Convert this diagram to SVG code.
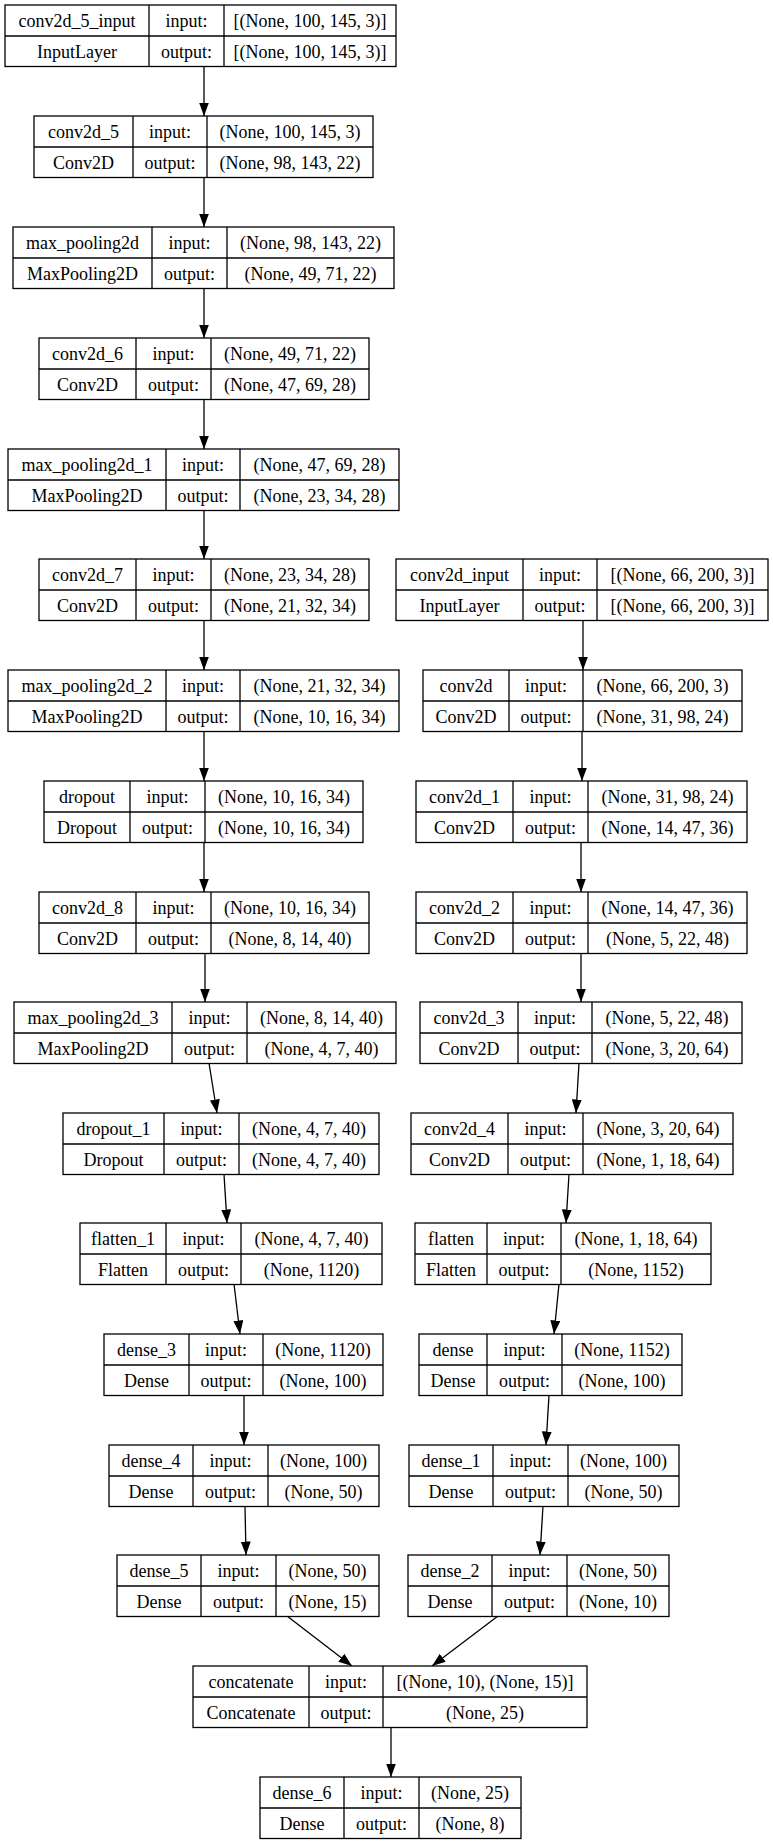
<svg xmlns="http://www.w3.org/2000/svg" width="773" height="1844" viewBox="0 0 773 1844">
<style>
rect.b{fill:#fff;stroke:#000;stroke-width:1.3}
line.s{stroke:#000;stroke-width:1.3}
text{font-family:"Liberation Serif","Times New Roman",serif;font-size:18px;fill:#000;text-anchor:middle}
.e line{stroke:#000;stroke-width:1.3;marker-end:url(#ah)}
</style>
<defs>
<marker id="ah" markerUnits="userSpaceOnUse" markerWidth="14" markerHeight="10" refX="13.5" refY="5" orient="auto">
<path d="M0,0 L13.5,5 L0,10 z" fill="#000"/>
</marker>
</defs>
<rect width="773" height="1844" fill="#fff"/>

<g class="e" id="connectors">
<line x1="204" y1="67" x2="204" y2="116"/>
<line x1="204" y1="177" x2="204" y2="227"/>
<line x1="204" y1="288" x2="204" y2="338"/>
<line x1="204" y1="399" x2="204" y2="449"/>
<line x1="204" y1="510" x2="204" y2="559"/>
<line x1="204" y1="620" x2="204" y2="670"/>
<line x1="204" y1="731" x2="204" y2="781"/>
<line x1="204" y1="842" x2="204" y2="892"/>
<line x1="205" y1="953" x2="205" y2="1002"/>
<line x1="209" y1="1063" x2="217" y2="1113"/>
<line x1="224" y1="1174" x2="227" y2="1223"/>
<line x1="234" y1="1284" x2="240" y2="1334"/>
<line x1="244" y1="1395" x2="244" y2="1445"/>
<line x1="245" y1="1506" x2="246" y2="1555"/>
<line x1="287" y1="1616" x2="352" y2="1666"/>
<line x1="583" y1="620" x2="583" y2="670"/>
<line x1="582" y1="731" x2="582" y2="781"/>
<line x1="581" y1="842" x2="581" y2="892"/>
<line x1="581" y1="953" x2="581" y2="1002"/>
<line x1="579" y1="1063" x2="576" y2="1113"/>
<line x1="569" y1="1174" x2="566" y2="1223"/>
<line x1="559" y1="1284" x2="554" y2="1334"/>
<line x1="549" y1="1395" x2="546" y2="1445"/>
<line x1="543" y1="1506" x2="540" y2="1555"/>
<line x1="498" y1="1616" x2="432" y2="1666"/>
<line x1="391" y1="1727" x2="391" y2="1777"/>
</g>

<g id="conv2d_5_input">
<rect class="b" x="5" y="5" width="391" height="61.5"/>
<line class="s" x1="5" y1="36" x2="396" y2="36"/>
<line class="s" x1="149" y1="5" x2="149" y2="66.5"/>
<line class="s" x1="224" y1="5" x2="224" y2="66.5"/>
<text x="77" y="27">conv2d_5_input</text><text x="77" y="58">InputLayer</text>
<text x="186.5" y="27">input:</text><text x="186.5" y="58">output:</text>
<text x="310" y="27">[(None, 100, 145, 3)]</text><text x="310" y="58">[(None, 100, 145, 3)]</text>
</g>

<g id="conv2d_5">
<rect class="b" x="34" y="116" width="339" height="61.5"/>
<line class="s" x1="34" y1="147" x2="373" y2="147"/>
<line class="s" x1="133" y1="116" x2="133" y2="177.5"/>
<line class="s" x1="207" y1="116" x2="207" y2="177.5"/>
<text x="83.5" y="138">conv2d_5</text><text x="83.5" y="169">Conv2D</text>
<text x="170" y="138">input:</text><text x="170" y="169">output:</text>
<text x="290" y="138">(None, 100, 145, 3)</text><text x="290" y="169">(None, 98, 143, 22)</text>
</g>

<g id="max_pooling2d">
<rect class="b" x="13" y="227" width="381" height="61.5"/>
<line class="s" x1="13" y1="258" x2="394" y2="258"/>
<line class="s" x1="152" y1="227" x2="152" y2="288.5"/>
<line class="s" x1="227" y1="227" x2="227" y2="288.5"/>
<text x="82.5" y="249">max_pooling2d</text><text x="82.5" y="280">MaxPooling2D</text>
<text x="189.5" y="249">input:</text><text x="189.5" y="280">output:</text>
<text x="310.5" y="249">(None, 98, 143, 22)</text><text x="310.5" y="280">(None, 49, 71, 22)</text>
</g>

<g id="conv2d_6">
<rect class="b" x="39" y="338" width="330" height="61.5"/>
<line class="s" x1="39" y1="369" x2="369" y2="369"/>
<line class="s" x1="136" y1="338" x2="136" y2="399.5"/>
<line class="s" x1="211" y1="338" x2="211" y2="399.5"/>
<text x="87.5" y="360">conv2d_6</text><text x="87.5" y="391">Conv2D</text>
<text x="173.5" y="360">input:</text><text x="173.5" y="391">output:</text>
<text x="290" y="360">(None, 49, 71, 22)</text><text x="290" y="391">(None, 47, 69, 28)</text>
</g>

<g id="max_pooling2d_1">
<rect class="b" x="8" y="449" width="391" height="61.5"/>
<line class="s" x1="8" y1="480" x2="399" y2="480"/>
<line class="s" x1="166" y1="449" x2="166" y2="510.5"/>
<line class="s" x1="240" y1="449" x2="240" y2="510.5"/>
<text x="87" y="471">max_pooling2d_1</text><text x="87" y="502">MaxPooling2D</text>
<text x="203" y="471">input:</text><text x="203" y="502">output:</text>
<text x="319.5" y="471">(None, 47, 69, 28)</text><text x="319.5" y="502">(None, 23, 34, 28)</text>
</g>

<g id="conv2d_7">
<rect class="b" x="39" y="559" width="330" height="61.5"/>
<line class="s" x1="39" y1="590" x2="369" y2="590"/>
<line class="s" x1="136" y1="559" x2="136" y2="620.5"/>
<line class="s" x1="211" y1="559" x2="211" y2="620.5"/>
<text x="87.5" y="581">conv2d_7</text><text x="87.5" y="612">Conv2D</text>
<text x="173.5" y="581">input:</text><text x="173.5" y="612">output:</text>
<text x="290" y="581">(None, 23, 34, 28)</text><text x="290" y="612">(None, 21, 32, 34)</text>
</g>

<g id="max_pooling2d_2">
<rect class="b" x="8" y="670" width="391" height="61.5"/>
<line class="s" x1="8" y1="701" x2="399" y2="701"/>
<line class="s" x1="166" y1="670" x2="166" y2="731.5"/>
<line class="s" x1="240" y1="670" x2="240" y2="731.5"/>
<text x="87" y="692">max_pooling2d_2</text><text x="87" y="723">MaxPooling2D</text>
<text x="203" y="692">input:</text><text x="203" y="723">output:</text>
<text x="319.5" y="692">(None, 21, 32, 34)</text><text x="319.5" y="723">(None, 10, 16, 34)</text>
</g>

<g id="dropout">
<rect class="b" x="44" y="781" width="319" height="61.5"/>
<line class="s" x1="44" y1="812" x2="363" y2="812"/>
<line class="s" x1="130" y1="781" x2="130" y2="842.5"/>
<line class="s" x1="205" y1="781" x2="205" y2="842.5"/>
<text x="87" y="803">dropout</text><text x="87" y="834">Dropout</text>
<text x="167.5" y="803">input:</text><text x="167.5" y="834">output:</text>
<text x="284" y="803">(None, 10, 16, 34)</text><text x="284" y="834">(None, 10, 16, 34)</text>
</g>

<g id="conv2d_8">
<rect class="b" x="39" y="892" width="330" height="61.5"/>
<line class="s" x1="39" y1="923" x2="369" y2="923"/>
<line class="s" x1="136" y1="892" x2="136" y2="953.5"/>
<line class="s" x1="211" y1="892" x2="211" y2="953.5"/>
<text x="87.5" y="914">conv2d_8</text><text x="87.5" y="945">Conv2D</text>
<text x="173.5" y="914">input:</text><text x="173.5" y="945">output:</text>
<text x="290" y="914">(None, 10, 16, 34)</text><text x="290" y="945">(None, 8, 14, 40)</text>
</g>

<g id="max_pooling2d_3">
<rect class="b" x="14" y="1002" width="382" height="61.5"/>
<line class="s" x1="14" y1="1033" x2="396" y2="1033"/>
<line class="s" x1="172" y1="1002" x2="172" y2="1063.5"/>
<line class="s" x1="247" y1="1002" x2="247" y2="1063.5"/>
<text x="93" y="1024">max_pooling2d_3</text><text x="93" y="1055">MaxPooling2D</text>
<text x="209.5" y="1024">input:</text><text x="209.5" y="1055">output:</text>
<text x="321.5" y="1024">(None, 8, 14, 40)</text><text x="321.5" y="1055">(None, 4, 7, 40)</text>
</g>

<g id="dropout_1">
<rect class="b" x="63" y="1113" width="316" height="61.5"/>
<line class="s" x1="63" y1="1144" x2="379" y2="1144"/>
<line class="s" x1="164" y1="1113" x2="164" y2="1174.5"/>
<line class="s" x1="239" y1="1113" x2="239" y2="1174.5"/>
<text x="113.5" y="1135">dropout_1</text><text x="113.5" y="1166">Dropout</text>
<text x="201.5" y="1135">input:</text><text x="201.5" y="1166">output:</text>
<text x="309" y="1135">(None, 4, 7, 40)</text><text x="309" y="1166">(None, 4, 7, 40)</text>
</g>

<g id="flatten_1">
<rect class="b" x="80" y="1223" width="302" height="61.5"/>
<line class="s" x1="80" y1="1254" x2="382" y2="1254"/>
<line class="s" x1="166" y1="1223" x2="166" y2="1284.5"/>
<line class="s" x1="241" y1="1223" x2="241" y2="1284.5"/>
<text x="123" y="1245">flatten_1</text><text x="123" y="1276">Flatten</text>
<text x="203.5" y="1245">input:</text><text x="203.5" y="1276">output:</text>
<text x="311.5" y="1245">(None, 4, 7, 40)</text><text x="311.5" y="1276">(None, 1120)</text>
</g>

<g id="dense_3">
<rect class="b" x="104" y="1334" width="279" height="61.5"/>
<line class="s" x1="104" y1="1365" x2="383" y2="1365"/>
<line class="s" x1="189" y1="1334" x2="189" y2="1395.5"/>
<line class="s" x1="263" y1="1334" x2="263" y2="1395.5"/>
<text x="146.5" y="1356">dense_3</text><text x="146.5" y="1387">Dense</text>
<text x="226" y="1356">input:</text><text x="226" y="1387">output:</text>
<text x="323" y="1356">(None, 1120)</text><text x="323" y="1387">(None, 100)</text>
</g>

<g id="dense_4">
<rect class="b" x="109" y="1445" width="270" height="61.5"/>
<line class="s" x1="109" y1="1476" x2="379" y2="1476"/>
<line class="s" x1="193" y1="1445" x2="193" y2="1506.5"/>
<line class="s" x1="268" y1="1445" x2="268" y2="1506.5"/>
<text x="151" y="1467">dense_4</text><text x="151" y="1498">Dense</text>
<text x="230.5" y="1467">input:</text><text x="230.5" y="1498">output:</text>
<text x="323.5" y="1467">(None, 100)</text><text x="323.5" y="1498">(None, 50)</text>
</g>

<g id="dense_5">
<rect class="b" x="117" y="1555" width="262" height="61.5"/>
<line class="s" x1="117" y1="1586" x2="379" y2="1586"/>
<line class="s" x1="201" y1="1555" x2="201" y2="1616.5"/>
<line class="s" x1="276" y1="1555" x2="276" y2="1616.5"/>
<text x="159" y="1577">dense_5</text><text x="159" y="1608">Dense</text>
<text x="238.5" y="1577">input:</text><text x="238.5" y="1608">output:</text>
<text x="327.5" y="1577">(None, 50)</text><text x="327.5" y="1608">(None, 15)</text>
</g>

<g id="conv2d_input">
<rect class="b" x="396" y="559" width="372" height="61.5"/>
<line class="s" x1="396" y1="590" x2="768" y2="590"/>
<line class="s" x1="523" y1="559" x2="523" y2="620.5"/>
<line class="s" x1="597" y1="559" x2="597" y2="620.5"/>
<text x="459.5" y="581">conv2d_input</text><text x="459.5" y="612">InputLayer</text>
<text x="560" y="581">input:</text><text x="560" y="612">output:</text>
<text x="682.5" y="581">[(None, 66, 200, 3)]</text><text x="682.5" y="612">[(None, 66, 200, 3)]</text>
</g>

<g id="conv2d">
<rect class="b" x="423" y="670" width="319" height="61.5"/>
<line class="s" x1="423" y1="701" x2="742" y2="701"/>
<line class="s" x1="509" y1="670" x2="509" y2="731.5"/>
<line class="s" x1="583" y1="670" x2="583" y2="731.5"/>
<text x="466" y="692">conv2d</text><text x="466" y="723">Conv2D</text>
<text x="546" y="692">input:</text><text x="546" y="723">output:</text>
<text x="662.5" y="692">(None, 66, 200, 3)</text><text x="662.5" y="723">(None, 31, 98, 24)</text>
</g>

<g id="conv2d_1">
<rect class="b" x="416" y="781" width="331" height="61.5"/>
<line class="s" x1="416" y1="812" x2="747" y2="812"/>
<line class="s" x1="513" y1="781" x2="513" y2="842.5"/>
<line class="s" x1="588" y1="781" x2="588" y2="842.5"/>
<text x="464.5" y="803">conv2d_1</text><text x="464.5" y="834">Conv2D</text>
<text x="550.5" y="803">input:</text><text x="550.5" y="834">output:</text>
<text x="667.5" y="803">(None, 31, 98, 24)</text><text x="667.5" y="834">(None, 14, 47, 36)</text>
</g>

<g id="conv2d_2">
<rect class="b" x="416" y="892" width="331" height="61.5"/>
<line class="s" x1="416" y1="923" x2="747" y2="923"/>
<line class="s" x1="513" y1="892" x2="513" y2="953.5"/>
<line class="s" x1="588" y1="892" x2="588" y2="953.5"/>
<text x="464.5" y="914">conv2d_2</text><text x="464.5" y="945">Conv2D</text>
<text x="550.5" y="914">input:</text><text x="550.5" y="945">output:</text>
<text x="667.5" y="914">(None, 14, 47, 36)</text><text x="667.5" y="945">(None, 5, 22, 48)</text>
</g>

<g id="conv2d_3">
<rect class="b" x="420" y="1002" width="322" height="61.5"/>
<line class="s" x1="420" y1="1033" x2="742" y2="1033"/>
<line class="s" x1="518" y1="1002" x2="518" y2="1063.5"/>
<line class="s" x1="592" y1="1002" x2="592" y2="1063.5"/>
<text x="469" y="1024">conv2d_3</text><text x="469" y="1055">Conv2D</text>
<text x="555" y="1024">input:</text><text x="555" y="1055">output:</text>
<text x="667" y="1024">(None, 5, 22, 48)</text><text x="667" y="1055">(None, 3, 20, 64)</text>
</g>

<g id="conv2d_4">
<rect class="b" x="411" y="1113" width="322" height="61.5"/>
<line class="s" x1="411" y1="1144" x2="733" y2="1144"/>
<line class="s" x1="508" y1="1113" x2="508" y2="1174.5"/>
<line class="s" x1="583" y1="1113" x2="583" y2="1174.5"/>
<text x="459.5" y="1135">conv2d_4</text><text x="459.5" y="1166">Conv2D</text>
<text x="545.5" y="1135">input:</text><text x="545.5" y="1166">output:</text>
<text x="658" y="1135">(None, 3, 20, 64)</text><text x="658" y="1166">(None, 1, 18, 64)</text>
</g>

<g id="flatten">
<rect class="b" x="415" y="1223" width="296" height="61.5"/>
<line class="s" x1="415" y1="1254" x2="711" y2="1254"/>
<line class="s" x1="487" y1="1223" x2="487" y2="1284.5"/>
<line class="s" x1="561" y1="1223" x2="561" y2="1284.5"/>
<text x="451" y="1245">flatten</text><text x="451" y="1276">Flatten</text>
<text x="524" y="1245">input:</text><text x="524" y="1276">output:</text>
<text x="636" y="1245">(None, 1, 18, 64)</text><text x="636" y="1276">(None, 1152)</text>
</g>

<g id="dense">
<rect class="b" x="419" y="1334" width="263" height="61.5"/>
<line class="s" x1="419" y1="1365" x2="682" y2="1365"/>
<line class="s" x1="487" y1="1334" x2="487" y2="1395.5"/>
<line class="s" x1="562" y1="1334" x2="562" y2="1395.5"/>
<text x="453" y="1356">dense</text><text x="453" y="1387">Dense</text>
<text x="524.5" y="1356">input:</text><text x="524.5" y="1387">output:</text>
<text x="622" y="1356">(None, 1152)</text><text x="622" y="1387">(None, 100)</text>
</g>

<g id="dense_1">
<rect class="b" x="409" y="1445" width="270" height="61.5"/>
<line class="s" x1="409" y1="1476" x2="679" y2="1476"/>
<line class="s" x1="493" y1="1445" x2="493" y2="1506.5"/>
<line class="s" x1="568" y1="1445" x2="568" y2="1506.5"/>
<text x="451" y="1467">dense_1</text><text x="451" y="1498">Dense</text>
<text x="530.5" y="1467">input:</text><text x="530.5" y="1498">output:</text>
<text x="623.5" y="1467">(None, 100)</text><text x="623.5" y="1498">(None, 50)</text>
</g>

<g id="dense_2">
<rect class="b" x="408" y="1555" width="261" height="61.5"/>
<line class="s" x1="408" y1="1586" x2="669" y2="1586"/>
<line class="s" x1="492" y1="1555" x2="492" y2="1616.5"/>
<line class="s" x1="567" y1="1555" x2="567" y2="1616.5"/>
<text x="450" y="1577">dense_2</text><text x="450" y="1608">Dense</text>
<text x="529.5" y="1577">input:</text><text x="529.5" y="1608">output:</text>
<text x="618" y="1577">(None, 50)</text><text x="618" y="1608">(None, 10)</text>
</g>

<g id="concatenate">
<rect class="b" x="193" y="1666" width="394" height="61.5"/>
<line class="s" x1="193" y1="1697" x2="587" y2="1697"/>
<line class="s" x1="309" y1="1666" x2="309" y2="1727.5"/>
<line class="s" x1="383" y1="1666" x2="383" y2="1727.5"/>
<text x="251" y="1688">concatenate</text><text x="251" y="1719">Concatenate</text>
<text x="346" y="1688">input:</text><text x="346" y="1719">output:</text>
<text x="485" y="1688">[(None, 10), (None, 15)]</text><text x="485" y="1719">(None, 25)</text>
</g>

<g id="dense_6">
<rect class="b" x="260" y="1777" width="261" height="61.5"/>
<line class="s" x1="260" y1="1808" x2="521" y2="1808"/>
<line class="s" x1="344" y1="1777" x2="344" y2="1838.5"/>
<line class="s" x1="419" y1="1777" x2="419" y2="1838.5"/>
<text x="302" y="1799">dense_6</text><text x="302" y="1830">Dense</text>
<text x="381.5" y="1799">input:</text><text x="381.5" y="1830">output:</text>
<text x="470" y="1799">(None, 25)</text><text x="470" y="1830">(None, 8)</text>
</g>
</svg>
